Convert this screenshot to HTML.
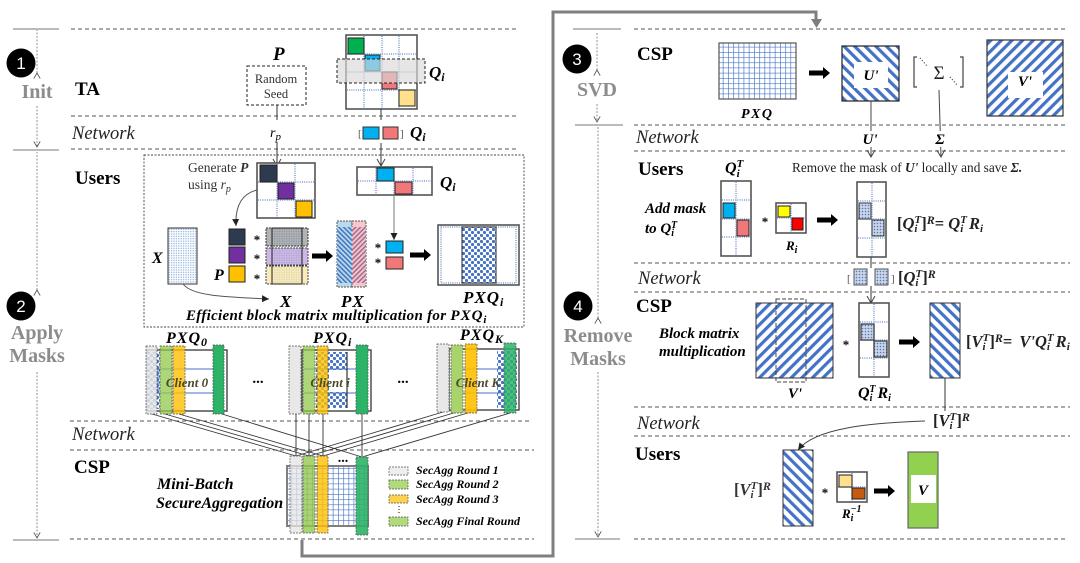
<!DOCTYPE html>
<html><head><meta charset="utf-8">
<style>
html,body{margin:0;padding:0;background:#fff;width:1080px;height:563px;overflow:hidden}
svg{display:block;filter:blur(.3px)}
text{font-family:"Liberation Serif",serif}
.b{font-weight:bold}.bi{font-weight:bold;font-style:italic}.i{font-style:italic}
.h{font-weight:bold;font-size:19px}
.n{font-style:italic;font-size:18.5px;fill:#222}
.g{font-weight:bold;font-size:20px;fill:#8c8c8c;text-anchor:middle}
.w{font-family:"Liberation Sans",sans-serif;font-size:17px;fill:#fff;text-anchor:middle}
.d{stroke:#555;stroke-width:1;stroke-dasharray:4 3;fill:none}
.s{stroke:#777;stroke-width:1;fill:none}
.v{stroke:#777;stroke-width:.8;stroke-dasharray:2 1.5;fill:none}
.l{stroke:#333;stroke-width:1;fill:none}
.gd{stroke:#7f9ad0;stroke-width:1.5;stroke-dasharray:1 1.2;fill:none}
.o{stroke:#555;stroke-width:1.6}
.c{stroke:#555;stroke-width:.7;stroke-dasharray:2 1}
</style></head><body>
<svg width="1080" height="563" viewBox="0 0 1080 563" xmlns="http://www.w3.org/2000/svg">
<defs>
<pattern id="hF" width="7.5" height="7.5" patternUnits="userSpaceOnUse" patternTransform="rotate(45)"><rect width="7.5" height="7.5" fill="#fff"/><rect width="3.2" height="7.5" fill="#4472c4"/></pattern>
<pattern id="hB" width="7.5" height="7.5" patternUnits="userSpaceOnUse" patternTransform="rotate(-45)"><rect width="7.5" height="7.5" fill="#fff"/><rect width="3.2" height="7.5" fill="#4472c4"/></pattern>
<pattern id="hP" width="3.4" height="3.4" patternUnits="userSpaceOnUse" patternTransform="rotate(-45)"><rect width="3.4" height="3.4" fill="#b9d4ee"/><rect width="1.5" height="3.4" fill="#3d78b8"/></pattern>
<pattern id="hR" width="3.4" height="3.4" patternUnits="userSpaceOnUse" patternTransform="rotate(45)"><rect width="3.4" height="3.4" fill="#f0c6cb"/><rect width="1.5" height="3.4" fill="#a56a90"/></pattern>
<pattern id="grid" width="5.2" height="5.2" patternUnits="userSpaceOnUse"><rect width="5.2" height="5.2" fill="#fff"/><path d="M0 0H5.2M0 0V5.2" stroke="#4472c4" stroke-width="1.3" fill="none"/></pattern>
<pattern id="dots" width="2.4" height="2.4" patternUnits="userSpaceOnUse"><rect width="2.4" height="2.4" fill="#fff"/><circle cx="1.2" cy="1.2" r=".7" fill="#8fb0dc"/></pattern>
<pattern id="big" width="6" height="6" patternUnits="userSpaceOnUse"><rect width="6" height="6" fill="#fff"/><circle cx="1.5" cy="1.5" r="1.6" fill="#4472c4"/><circle cx="4.5" cy="4.5" r="1.6" fill="#4472c4"/></pattern>
<pattern id="mesh" width="3" height="3" patternUnits="userSpaceOnUse"><rect width="3" height="3" fill="#c9d5ea"/><circle cx="1.5" cy="1.5" r=".8" fill="#5878b0"/></pattern>
<marker id="op" markerWidth="10" markerHeight="10" refX="8" refY="5" orient="auto"><path d="M1 1L8 5L1 9" fill="none" stroke="#444" stroke-width="1"/></marker>
<marker id="fi" markerWidth="8" markerHeight="8" refX="7" refY="4" orient="auto"><path d="M0 .5L7 4L0 7.5Z" fill="#222"/></marker>
<path id="ar" d="M0 -2.5H14V-6L21 0L14 6V2.5H0Z" fill="#000"/>
</defs>

<!-- dashed horizontals left -->
<path class="d" d="M71 29H517M71 116H517M71 149H517M70 421H530M70 450H534M70 539H534"/>
<!-- dashed horizontals right -->
<path class="d" d="M634 29H1068M634 125H1068M634 151H1068M634 263H1070M634 292H1070M634 407H1070M634 436H1070M634 539H1068"/>

<!-- left side brackets -->
<path class="s" d="M13 29H59M13 150H59M13 540H59"/>
<path class="v" marker-start="url(#op)" d="M37 73V30"/>
<path class="v" marker-end="url(#op)" d="M37 106V147"/>
<path class="v" marker-start="url(#op)" d="M37 290V152"/>
<path class="v" marker-end="url(#op)" d="M37 372V538"/>
<circle cx="21" cy="63" r="14.5" fill="#000"/><text x="21" y="69" class="w">1</text>
<circle cx="21" cy="306" r="14.5" fill="#000"/><text x="21" y="312" class="w">2</text>
<text x="37" y="98" class="g">Init</text>
<text x="37" y="339" class="g">Apply</text>
<text x="37" y="362" class="g">Masks</text>

<!-- right side brackets -->
<path class="s" d="M573 29H621M575 125H623M575 539H620"/>
<path class="v" marker-start="url(#op)" d="M597 70V32"/>
<path class="v" marker-end="url(#op)" d="M597 104V122"/>
<path class="v" marker-start="url(#op)" d="M598 318V127"/>
<path class="v" marker-end="url(#op)" d="M598 372V537"/>
<circle cx="577" cy="59" r="14.5" fill="#000"/><text x="577" y="65" class="w">3</text>
<circle cx="578" cy="306" r="14.5" fill="#000"/><text x="578" y="312" class="w">4</text>
<text x="597" y="96" class="g">SVD</text>
<text x="598" y="342" class="g">Remove</text>
<text x="598" y="365" class="g">Masks</text>

<!-- thick connector -->
<path d="M302 540V556H553V12H816V22" fill="none" stroke="#7f7f7f" stroke-width="3"/>
<path d="M811 19H822L816.5 28Z" fill="#7f7f7f"/>

<!-- Section labels left -->
<text x="75" y="95" class="h">TA</text>
<text x="72" y="139" class="n">Network</text>
<text x="75" y="184" class="h">Users</text>
<text x="72" y="440" class="n">Network</text>
<text x="74" y="473" class="h">CSP</text>

<!-- Init -->
<text x="273" y="60" class="bi" font-size="19">P</text>
<rect x="247" y="66" width="59" height="39" fill="#fff" stroke="#222" stroke-dasharray="3 2"/>
<text x="276" y="83" text-anchor="middle" font-size="12.5" fill="#333">Random</text>
<text x="276" y="98" text-anchor="middle" font-size="12.5" fill="#333">Seed</text>
<path class="l" d="M277 105V120"/>
<text x="270" y="137" class="i" font-size="14">r<tspan dy="3" font-size="11">p</tspan></text>
<path class="l" marker-end="url(#op)" d="M277 142V166"/>

<rect x="346" y="35" width="71" height="74" fill="#fff" class="o"/>
<path class="gd" d="M364 36V108M382 36V108M399 36V108M347 54H416M347 72H416M347 90H416"/>
<rect x="348" y="38" width="16" height="16" fill="#00b050" stroke="#222" stroke-width="1"/>
<rect x="365" y="55" width="15" height="16" fill="#00b0f0" stroke="#222" stroke-width="1"/>
<rect x="382" y="72" width="15" height="17" fill="#f07878" stroke="#222" stroke-width="1"/>
<rect x="399" y="90" width="16" height="16" fill="#ffe08c" stroke="#222" stroke-width="1"/>
<rect x="337" y="59" width="88" height="24" fill="#d9d9d9" fill-opacity=".65" stroke="#222" stroke-dasharray="3 2"/>
<text x="429" y="78" class="bi" font-size="17">Q<tspan dy="3" font-size="12">i</tspan></text>
<path class="l" d="M381 109V120"/>
<text x="358" y="137" font-size="11" fill="#555">[</text>
<rect x="363" y="127" width="16" height="12" fill="#00b0f0" stroke="#333"/>
<rect x="383" y="127" width="15" height="12" fill="#f07878" stroke="#333"/>
<text x="400" y="137" font-size="11" fill="#555">]</text>
<text x="410" y="138" class="bi" font-size="17">Q<tspan dy="3" font-size="12">i</tspan></text>
<path class="l" marker-end="url(#op)" d="M381 143V166"/>

<!-- Users box -->
<rect x="144" y="155" width="380" height="172" fill="none" stroke="#444" stroke-width=".9" stroke-dasharray="2 1.5"/>
<text x="188" y="172" font-size="13.5" fill="#333">Generate <tspan class="bi">P</tspan></text>
<text x="188" y="189" font-size="13.5" fill="#333">using <tspan class="i">r</tspan><tspan class="i" dy="3" font-size="10">p</tspan></text>
<rect x="257" y="163" width="58" height="55" fill="#fff" class="o"/>
<path class="gd" d="M277 164V217M295 164V217M258 182H314M258 200H314"/>
<rect x="260" y="165" width="17" height="17" fill="#2e3a4f" stroke="#222"/>
<rect x="278" y="183" width="16" height="16" fill="#7030a0" stroke="#222"/>
<rect x="296" y="201" width="16" height="16" fill="#ffc000" stroke="#222"/>
<path d="M257 190C241 194 235 207 236 226" fill="none" stroke="#555" marker-end="url(#fi)"/>

<rect x="357" y="167" width="75" height="28" fill="#fff" class="o"/>
<path class="gd" d="M376 168V194M394 168V194M413 168V194M358 181H431"/>
<rect x="377" y="168" width="17" height="13" fill="#00b0f0" stroke="#222"/>
<rect x="395" y="182" width="17" height="12" fill="#f07878" stroke="#222"/>
<text x="440" y="188" class="bi" font-size="17">Q<tspan dy="3" font-size="12">i</tspan></text>
<path d="M394 195V240" fill="none" style="stroke:#777" marker-end="url(#fi)"/>

<text x="152" y="263" class="bi" font-size="16">X</text>
<rect x="168" y="228" width="29" height="56" fill="url(#dots)" stroke="#333"/>
<path d="M183 284C192 296 225 297 269 299" fill="none" stroke="#555" marker-end="url(#fi)"/>
<text x="280" y="307" class="bi" font-size="17">X</text>

<rect x="229" y="229" width="16" height="16" fill="#2e3a4f" stroke="#222"/>
<rect x="229" y="247" width="16" height="16" fill="#7030a0" stroke="#222"/>
<rect x="229" y="266" width="16" height="16" fill="#ffc000" stroke="#222"/>
<text x="214" y="280" class="bi" font-size="16">P</text>
<text x="257" y="244" text-anchor="middle" font-size="13" class="b">*</text>
<text x="257" y="263" text-anchor="middle" font-size="13" class="b">*</text>
<text x="257" y="283" text-anchor="middle" font-size="13" class="b">*</text>

<rect x="272" y="228" width="30" height="56" fill="url(#dots)"/>
<rect x="266" y="228" width="42" height="18" fill="#7f7f7f" fill-opacity=".6" stroke="#333" stroke-dasharray="2 1"/>
<rect x="266" y="248" width="42" height="17" fill="#b79ad6" fill-opacity=".7" stroke="#444" stroke-dasharray="2 1"/>
<rect x="266" y="266" width="42" height="18" fill="#f5e19d" fill-opacity=".7" stroke="#444" stroke-dasharray="2 1"/>
<rect x="272" y="228" width="30" height="56" fill="none" stroke="#222"/>
<use href="#ar" x="312" y="256"/>

<rect x="337" y="221" width="15" height="66" fill="#b9d9ee" stroke="#555" stroke-dasharray="2 1"/>
<rect x="352" y="221" width="14" height="66" fill="#f5c8cb" stroke="#555" stroke-dasharray="2 1"/>
<rect x="337" y="227" width="15" height="56" fill="url(#hP)"/>
<rect x="352" y="227" width="14" height="56" fill="url(#hR)"/>
<text x="341" y="307" class="bi" font-size="17" letter-spacing="1">PX</text>
<text x="378" y="252" text-anchor="middle" font-size="13" class="b">*</text>
<text x="378" y="267" text-anchor="middle" font-size="13" class="b">*</text>
<rect x="386" y="241" width="17" height="12" fill="#00b0f0" stroke="#222"/>
<rect x="386" y="257" width="17" height="12" fill="#f07878" stroke="#222"/>
<use href="#ar" x="410" y="255"/>

<rect x="438" y="225" width="81" height="60" fill="#fff" class="o"/>
<rect x="441" y="227" width="75" height="56" fill="none" class="gd"/>
<rect x="462" y="227" width="34" height="56" fill="url(#big)" stroke="#222" stroke-width="1"/>
<text x="463" y="303" class="bi" font-size="17" letter-spacing="1">PXQ<tspan dy="3" font-size="12">i</tspan></text>
<text x="186" y="320" class="bi" font-size="15" letter-spacing=".3">Efficient block matrix multiplication for <tspan letter-spacing="1">PXQ</tspan><tspan dy="3" font-size="11">i</tspan></text>

<!-- client lines -->
<g stroke="#333" stroke-width=".9" fill="none">
<path d="M152 414L296 456M165 414L309 456M179 414L323 456M222 414L362 457"/>
<path d="M296 414V456M309 414V456M323 414V456M362 414V456"/>
<path d="M443 412L296 456M457 412L309 456M471 412L323 456M510 413L362 457"/>
</g>

<!-- Client 0 -->
<text x="166" y="343" class="bi" font-size="16" letter-spacing="1">PXQ<tspan dy="3" font-size="12">0</tspan></text>
<rect x="147" y="350" width="80" height="61" fill="#fff" stroke="#444" stroke-width="1.4"/>
<rect x="147" y="352" width="13" height="57" fill="url(#big)"/>
<path d="M158 369H217M158 393H217M158 369H217V393H158Z" stroke="#4472c4" fill="none"/>
<rect x="146" y="346" width="11" height="68" fill="#e4e4e4" fill-opacity=".85" class="c"/>
<rect x="160" y="346" width="12" height="68" fill="#92c84c" fill-opacity=".75" class="c"/>
<rect x="173" y="346" width="12" height="68" fill="#ffc000" fill-opacity=".8" class="c"/>
<rect x="213" y="345" width="11" height="69" fill="#2db368" class="c"/>
<text x="187" y="387" text-anchor="middle" class="bi" font-size="13" fill="#4a4a2a">Client 0</text>

<!-- Client i -->
<text x="313" y="343" class="bi" font-size="16" letter-spacing="1">PXQ<tspan dy="3" font-size="12">i</tspan></text>
<rect x="302" y="350" width="69" height="61" fill="#fff" stroke="#444" stroke-width="1.4"/>
<rect x="329" y="352" width="18" height="18" fill="url(#big)"/>
<rect x="329" y="392" width="18" height="16" fill="url(#big)"/>
<rect x="316" y="352" width="13" height="56" fill="url(#big)"/>
<path d="M304 369H358M304 393H358" stroke="#4472c4" fill="none"/>
<path d="M347 352V408" stroke="#333" stroke-width="1.2"/>
<rect x="289" y="346" width="12" height="68" fill="#e8e8e8" class="c"/>
<rect x="303" y="346" width="12" height="68" fill="#92c84c" fill-opacity=".75" class="c"/>
<rect x="317" y="346" width="11" height="68" fill="#ffc000" fill-opacity=".8" class="c"/>
<rect x="356" y="345" width="12" height="69" fill="#2db368" class="c"/>
<text x="330" y="387" text-anchor="middle" class="bi" font-size="13" fill="#4a4a2a">Client i</text>

<!-- Client K -->
<text x="460" y="340" class="bi" font-size="16" letter-spacing="1">PXQ<tspan dy="3" font-size="12">K</tspan></text>
<rect x="449" y="349" width="70" height="61" fill="#fff" stroke="#444" stroke-width="1.4"/>
<rect x="497" y="351" width="20" height="57" fill="url(#big)"/>
<path d="M449 369H505M449 393H505" stroke="#4472c4" fill="none"/>
<rect x="437" y="344" width="12" height="68" fill="#e8e8e8" class="c"/>
<rect x="451" y="345" width="12" height="68" fill="#a9d46c" class="c"/>
<rect x="465" y="344" width="12" height="69" fill="#ffc000" fill-opacity=".9" class="c"/>
<rect x="504" y="343" width="12" height="70" fill="#2db368" fill-opacity=".85" class="c"/>
<text x="478" y="387" text-anchor="middle" class="bi" font-size="13" fill="#4a4a2a">Client K</text>

<text x="258" y="383" text-anchor="middle" class="b" font-size="15">...</text>
<text x="403" y="383" text-anchor="middle" class="b" font-size="15">...</text>

<!-- aggregate -->
<rect x="287" y="466" width="81" height="60" fill="url(#grid)" stroke="#7f7f7f" stroke-width="2"/>
<rect x="290" y="456" width="12" height="77" fill="#e4e4e4" fill-opacity=".75" class="c"/>
<rect x="303" y="456" width="12" height="77" fill="#92c84c" fill-opacity=".8" class="c"/>
<rect x="317" y="456" width="11" height="77" fill="#ffc000" fill-opacity=".8" class="c"/>
<rect x="356" y="457" width="12" height="78" fill="#2db368" fill-opacity=".9" class="c"/>
<text x="343" y="462" text-anchor="middle" class="b" font-size="14">...</text>
<text x="157" y="489" class="bi" font-size="16">Mini-Batch</text>
<text x="156" y="508" class="bi" font-size="16">SecureAggregation</text>

<!-- legend -->
<rect x="389" y="467" width="19" height="8" fill="#eee" class="c"/>
<rect x="389" y="480" width="19" height="9" fill="#b0da7c" class="c"/>
<rect x="389" y="495" width="19" height="8" fill="#ffd24d" class="c"/>
<rect x="389" y="517" width="19" height="9" fill="#b0da7c" class="c"/>
<text x="416" y="474" class="bi" font-size="12">SecAgg Round 1</text>
<text x="416" y="488" class="bi" font-size="12">SecAgg Round 2</text>
<text x="416" y="503" class="bi" font-size="12">SecAgg Round 3</text>
<text x="416" y="525" class="bi" font-size="12">SecAgg Final Round</text>
<path d="M399 506V514" stroke="#333" stroke-dasharray="1 2" stroke-width="1.2"/>

<!-- RIGHT -->
<text x="637" y="60" class="h">CSP</text>
<rect x="719" y="43" width="77" height="56" fill="url(#grid)" stroke="#555" stroke-width="1.2"/>
<text x="741" y="118" class="bi" font-size="14" letter-spacing="1.5">PXQ</text>
<use href="#ar" x="809" y="73"/>
<rect x="842" y="46" width="57" height="55" fill="url(#hB)" stroke="#222" stroke-width="1.2"/>
<rect x="854" y="62" width="34" height="26" fill="#fff"/>
<text x="871" y="80" text-anchor="middle" class="bi" font-size="15">U'</text>
<path d="M917 57H914V87H917M960 57H963V87H960" fill="none" stroke="#444" stroke-width="1.2"/>
<path d="M920 58L927 66M950 77L958 86" fill="none" stroke="#333" stroke-dasharray="1 2" stroke-width="1.2"/>
<text x="939" y="79" text-anchor="middle" font-size="19" fill="#222">Σ</text>
<rect x="987" y="40" width="76" height="76" fill="url(#hF)" stroke="#333" stroke-width="1.2"/>
<rect x="1008" y="72" width="35" height="26" fill="#fff"/>
<text x="1025" y="86" text-anchor="middle" class="bi" font-size="15">V'</text>
<path d="M871 101V157" stroke="#444" fill="none" marker-end="url(#op)"/>
<path d="M939 90L941 157" stroke="#444" fill="none" marker-end="url(#op)"/>
<rect x="862" y="131" width="18" height="16" fill="#fff"/>
<rect x="933" y="131" width="15" height="16" fill="#fff"/>
<text x="636" y="143" class="n">Network</text>
<text x="870" y="144" text-anchor="middle" class="bi" font-size="15">U'</text>
<text x="940" y="144" text-anchor="middle" class="bi" font-size="15">Σ</text>
<text x="638" y="175" class="h">Users</text>
<text x="725" y="173" class="bi" font-size="16">Q<tspan dy="4" font-size="11">i</tspan><tspan dx="-3" dy="-10" font-size="11">T</tspan></text>
<text x="792" y="172" font-size="13.3" fill="#222">Remove the mask of <tspan class="bi">U'</tspan> locally and save <tspan class="bi">Σ.</tspan></text>

<text x="645" y="213" class="bi" font-size="15">Add mask</text>
<text x="645" y="233" class="bi" font-size="15">to Q<tspan dy="3" font-size="10">i</tspan><tspan dx="-3" dy="-8" font-size="10">T</tspan></text>
<rect x="721" y="181" width="30" height="75" fill="#fff" class="o"/>
<path class="gd" d="M736 182V255M722 200H750M722 219H750M722 237H750"/>
<rect x="723" y="203" width="12" height="15" fill="#00b0f0" stroke="#222"/>
<rect x="737" y="220" width="12" height="16" fill="#f07878" stroke="#222"/>
<text x="765" y="226" text-anchor="middle" class="b" font-size="13">*</text>
<rect x="776" y="203" width="30" height="30" fill="#fff" class="o"/>
<path class="gd" d="M791 204V232M777 218H805"/>
<rect x="778" y="206" width="12" height="11" fill="#ffff00" stroke="#222"/>
<rect x="792" y="218" width="11" height="12" fill="#ff0000" stroke="#222"/>
<text x="786" y="250" class="bi" font-size="13">R<tspan dy="3" font-size="10">i</tspan></text>
<use href="#ar" x="817" y="220"/>
<rect x="857" y="182" width="29" height="75" fill="#fff" class="o"/>
<path class="gd" d="M872 183V256M858 201H885M858 219H885M858 238H885"/>
<rect x="859" y="203" width="12" height="16" fill="url(#mesh)" stroke="#333"/>
<rect x="872" y="220" width="12" height="16" fill="url(#mesh)" stroke="#333"/>
<text x="897" y="229" class="b" font-size="16.5" fill="#222">[<tspan class="bi">Q</tspan><tspan class="bi" dy="3" font-size="11">i</tspan><tspan class="bi" dx="-3" dy="-9" font-size="11">T</tspan><tspan dy="6">]</tspan><tspan dy="-5" font-size="12" class="bi">R</tspan><tspan dy="5">= </tspan><tspan class="bi">Q</tspan><tspan class="bi" dy="3" font-size="11">i</tspan><tspan class="bi" dx="-3" dy="-9" font-size="11">T</tspan><tspan class="bi" dy="6" dx="2">R</tspan><tspan class="bi" dy="3" font-size="11">i</tspan></text>
<path class="l" d="M871 257V268"/>
<text x="638" y="284" class="n">Network</text>
<text x="847" y="282" font-size="11" fill="#555">[</text>
<rect x="854" y="269" width="13" height="16" fill="url(#mesh)" stroke="#555"/>
<rect x="875" y="269" width="13" height="16" fill="url(#mesh)" stroke="#555"/>
<text x="891" y="282" font-size="11" fill="#555">]</text>
<text x="898" y="283" class="b" font-size="16.5" fill="#222">[<tspan class="bi">Q</tspan><tspan class="bi" dy="3" font-size="11">i</tspan><tspan class="bi" dx="-3" dy="-9" font-size="11">T</tspan><tspan dy="6">]</tspan><tspan dy="-5" font-size="12" class="bi">R</tspan></text>
<path class="l" marker-end="url(#op)" d="M871 286V303"/>

<text x="636" y="312" class="h">CSP</text>
<text x="659" y="338" class="bi" font-size="15">Block matrix</text>
<text x="659" y="356" class="bi" font-size="15">multiplication</text>
<rect x="756" y="303" width="77" height="75" fill="url(#hF)" stroke="#333"/>
<rect x="776" y="299" width="30" height="83" fill="none" stroke="#444" stroke-dasharray="4 2"/>
<text x="795" y="398" text-anchor="middle" class="bi" font-size="15">V'</text>
<text x="846" y="349" text-anchor="middle" class="b" font-size="13">*</text>
<rect x="859" y="303" width="30" height="74" fill="#fff" class="o"/>
<path class="gd" d="M874 304V376M860 322H888M860 340H888M860 358H888"/>
<rect x="861" y="324" width="13" height="16" fill="url(#mesh)" stroke="#333" stroke-width="1.2"/>
<rect x="874" y="341" width="13" height="16" fill="url(#mesh)" stroke="#333" stroke-width="1.2"/>
<text x="858" y="398" class="bi" font-size="16">Q<tspan dy="3" font-size="10">i</tspan><tspan dx="-3" dy="-9" font-size="10">T</tspan><tspan dy="6" dx="2">R</tspan><tspan dy="3" font-size="10">i</tspan></text>
<use href="#ar" x="899" y="342"/>
<rect x="930" y="303" width="30" height="75" fill="url(#hB)" stroke="#333"/>
<text x="966" y="347" class="b" font-size="16.5" fill="#222">[<tspan class="bi">V</tspan><tspan class="bi" dy="3" font-size="11">i</tspan><tspan class="bi" dx="-3" dy="-9" font-size="11">T</tspan><tspan dy="6">]</tspan><tspan dy="-5" font-size="12" class="bi">R</tspan><tspan dy="5">=  </tspan><tspan class="bi" dx="3">V'Q</tspan><tspan class="bi" dy="3" font-size="11">i</tspan><tspan class="bi" dx="-3" dy="-9" font-size="11">T</tspan><tspan class="bi" dy="6" dx="2">R</tspan><tspan class="bi" dy="3" font-size="11">i</tspan></text>
<path class="l" d="M945 378V411"/>
<text x="933" y="426" class="b" font-size="16.5" fill="#222">[<tspan class="bi">V</tspan><tspan class="bi" dy="3" font-size="11">i</tspan><tspan class="bi" dx="-3" dy="-9" font-size="11">T</tspan><tspan dy="6">]</tspan><tspan dy="-5" font-size="12" class="bi">R</tspan></text>
<text x="637" y="429" class="n">Network</text>
<path d="M925 421C870 423 815 428 798 450" fill="none" stroke="#444" marker-end="url(#fi)"/>

<text x="635" y="460" class="h">Users</text>
<text x="734" y="495" class="b" font-size="16.5" fill="#333">[<tspan class="bi">V</tspan><tspan class="bi" dy="3" font-size="11">i</tspan><tspan class="bi" dx="-3" dy="-9" font-size="11">T</tspan><tspan dy="6">]</tspan><tspan dy="-5" font-size="12" class="bi">R</tspan></text>
<rect x="783" y="450" width="30" height="76" fill="url(#hB)" stroke="#333"/>
<text x="825" y="497" text-anchor="middle" class="b" font-size="13">*</text>
<rect x="837" y="472" width="30" height="30" fill="#fff" class="o"/>
<path class="gd" d="M852 473V501M838 487H866"/>
<rect x="839" y="475" width="13" height="12" fill="#ffe08c" stroke="#222"/>
<rect x="852" y="488" width="13" height="11" fill="#c55a11" stroke="#222"/>
<text x="842" y="518" class="bi" font-size="13">R<tspan dy="3" font-size="10">i</tspan><tspan dx="-3" dy="-9" font-size="10">−1</tspan></text>
<use href="#ar" x="874" y="491"/>
<rect x="908" y="452" width="30" height="76" fill="#92d050" stroke="#666" stroke-width="1.2"/>
<rect x="911" y="475" width="25" height="28" fill="#fff"/>
<text x="923" y="495" text-anchor="middle" class="bi" font-size="15">V</text>
</svg>
</body></html>
